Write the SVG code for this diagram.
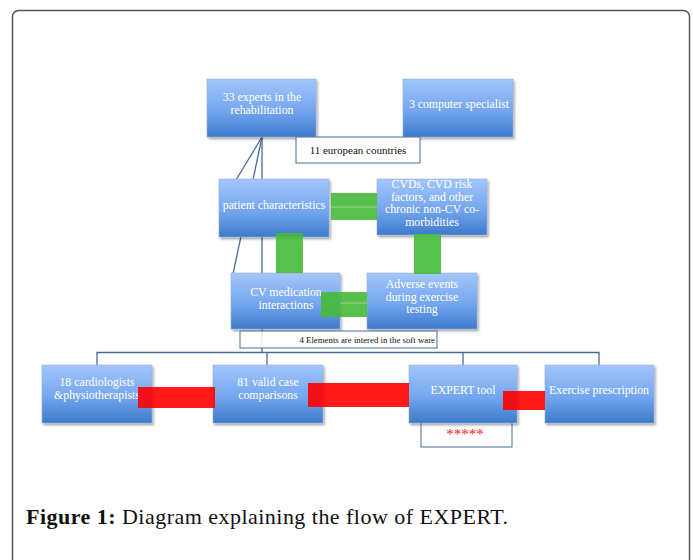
<svg xmlns="http://www.w3.org/2000/svg" width="694" height="560" viewBox="0 0 694 560">
<defs>
<linearGradient id="g" x1="0" y1="0" x2="0" y2="1">
<stop offset="0" stop-color="#a3c6fb"/>
<stop offset="0.55" stop-color="#74a6ee"/>
<stop offset="1" stop-color="#3d7acb"/>
</linearGradient>
<filter id="sh" x="-10%" y="-10%" width="130%" height="130%">
<feDropShadow dx="1.5" dy="2" stdDeviation="1.2" flood-color="#000" flood-opacity="0.35"/>
</filter>
</defs>
<style>
.box{fill:url(#g);stroke:#8fb0de;stroke-width:0.6;filter:url(#sh)}
.bt{font-family:"Liberation Serif","DejaVu Serif",serif;font-size:11.8px;fill:#fff;text-anchor:middle}
.lbl{fill:#fff;stroke:#4a6fa0;stroke-width:1}
.lt{font-family:"Liberation Serif","DejaVu Serif",serif;font-size:11px;fill:#111;text-anchor:middle}
.ln{stroke:#4a6a94;stroke-width:1.3;fill:none}
.gr{fill:#46b93a;fill-opacity:0.9}
.rd{fill:#ff0000;fill-opacity:0.9}
.cap{font-family:"Liberation Serif","DejaVu Serif",serif;font-size:22px;fill:#111}
</style>
<rect x="0" y="0" width="694" height="560" fill="#fff"/>
<rect x="12.5" y="10.5" width="677" height="570" rx="6" fill="none" stroke="#555" stroke-width="1.5"/>

<g id="connectors">
<line class="ln" x1="262" y1="137" x2="262" y2="353"/>
<line class="ln" x1="262" y1="137" x2="236" y2="180"/>
<line class="ln" x1="262" y1="137" x2="233" y2="274"/>
<polyline class="ln" points="97,365 97,352.5 599,352.5 599,365"/>
<line class="ln" x1="267" y1="352.5" x2="267" y2="365"/>
<line class="ln" x1="463" y1="352.5" x2="463" y2="365"/>
</g>

<g id="n33">
<rect class="box" x="207" y="79" width="109" height="58"/>
<text class="bt" x="262" y="101">33 experts in the</text>
<text class="bt" x="262" y="113.5">rehabilitation</text>
</g>
<g id="ncomp">
<rect class="box" x="403" y="79" width="110" height="58"/>
<text class="bt" x="459" y="108">3 computer specialist</text>
</g>
<g id="neu">
<rect class="lbl" x="296" y="137" width="124" height="26"/>
<text class="lt" x="358" y="154">11 european countries</text>
</g>
<g id="npat">
<rect class="box" x="219" y="179" width="110" height="58"/>
<text class="bt" x="274" y="209">patient characteristics</text>
</g>
<g id="ncvd">
<rect class="box" x="377" y="179" width="110" height="56"/>
<text class="bt" x="432" y="188">CVDs, CVD risk</text>
<text class="bt" x="432" y="200.5">factors, and other</text>
<text class="bt" x="432" y="213">chronic non-CV co-</text>
<text class="bt" x="432" y="225.5">morbidities</text>
</g>
<g id="ncvm">
<rect class="box" x="231" y="273" width="109" height="56"/>
<text class="bt" x="286" y="296">CV medication</text>
<text class="bt" x="286" y="308.5">interactions</text>
</g>
<g id="nadv">
<rect class="box" x="367" y="273" width="110" height="56"/>
<text class="bt" x="422" y="288">Adverse events</text>
<text class="bt" x="422" y="300.5">during exercise</text>
<text class="bt" x="422" y="313">testing</text>
</g>
<g id="n4el">
<rect class="lbl" x="240" y="331" width="197" height="17" fill-opacity="0.85"/>
<text class="lt" x="435" y="343" style="text-anchor:end;font-size:8.8px">4 Elements are intered in the soft ware</text>
</g>
<g id="n18">
<rect class="box" x="42" y="365" width="110" height="58"/>
<text class="bt" x="97" y="386">18 cardiologists</text>
<text class="bt" x="97" y="398.5">&amp;physiotherapists</text>
</g>
<g id="n81">
<rect class="box" x="213" y="365" width="110" height="58"/>
<text class="bt" x="268" y="386">81 valid case</text>
<text class="bt" x="268" y="398.5">comparisons</text>
</g>
<g id="nstar">
<rect class="lbl" x="421" y="420" width="91" height="27"/>
<text x="465" y="439" style="font-family:'Liberation Serif',serif;font-size:15px;fill:#ff2020;text-anchor:middle">*****</text>
</g>
<g id="nexp">
<rect class="box" x="409" y="365" width="108" height="58"/>
<text class="bt" x="463" y="394">EXPERT tool</text>
</g>
<g id="npres">
<rect class="box" x="545" y="365" width="109" height="58"/>
<text class="bt" x="599" y="394">Exercise prescription</text>
</g>

<g id="bars">
<rect class="gr" x="331" y="193" width="46" height="27"/>
<line x1="331" y1="207" x2="377" y2="207" stroke="#9bd393" stroke-width="1"/>
<rect class="gr" x="276" y="233" width="27" height="40"/>
<rect class="gr" x="414" y="234" width="27" height="40"/>
<rect class="gr" x="321" y="292" width="46" height="25"/>
<line x1="340" y1="303" x2="367" y2="303" stroke="#9bd393" stroke-width="1"/>
<rect class="rd" x="138" y="387" width="77" height="21"/>
<rect class="rd" x="308" y="383" width="101" height="24"/>
<rect class="rd" x="503" y="391" width="42" height="19"/>
</g>

<text class="cap" x="26" y="524" textLength="482" lengthAdjust="spacing"><tspan font-weight="bold">Figure 1:</tspan> Diagram explaining the flow of EXPERT.</text>
</svg>
